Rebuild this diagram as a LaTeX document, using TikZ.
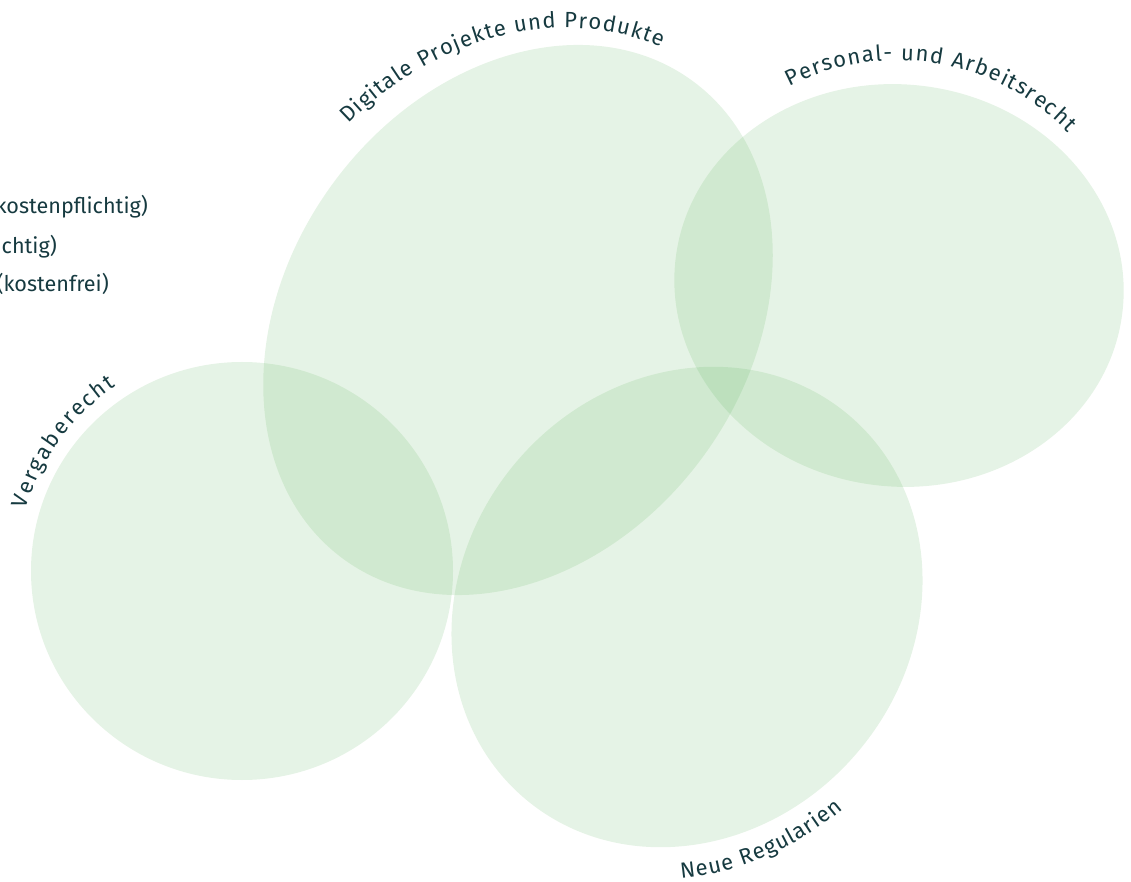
\documentclass[tikz,border=0pt]{standalone}
\usepackage{fontspec}
\setmainfont{Fira Sans}
\usetikzlibrary{decorations.text}
\definecolor{blobgreen}{RGB}{82,175,84}
\definecolor{labeltxt}{RGB}{22,58,64}
\newcommand{\arcfont}{\fontsize{22}{22}\selectfont\color{labeltxt}}
\tikzset{
  blob/.style={fill=blobgreen, fill opacity=0.15},
  legendtxt/.style={anchor=base east, inner sep=0pt, text=labeltxt, font=\fontsize{21.6}{25}\selectfont},
  arclabel/.style={decorate, decoration={text along path, text align={fit to path}, text={|\arcfont|#1}}},
}
\begin{document}
\begin{tikzpicture}[x=1pt,y=1pt]
\useasboundingbox (0,0) rectangle (1131,881);
\clip (0,0) rectangle (1131,881);
% sets
\fill[blob] (242,310) ellipse [x radius=211, y radius=209];
\fill[blob, shift={(518,561)}, rotate=54] (0,0) ellipse [x radius=296, y radius=230];
\fill[blob, shift={(899,595.5)}, rotate=-7] (0,0) ellipse [x radius=225, y radius=201];
\fill[blob, shift={(687,274)}, rotate=50] (0,0) ellipse [x radius=251, y radius=224];
% curved labels
\path[shift={(518,561)}, rotate=54, arclabel={Digitale Projekte und Produkte}]
  (79:309 and 257) arc[start angle=79, end angle=10, x radius=309, y radius=257];
\path[shift={(899,595.5)}, rotate=-7, arclabel={Personal- und Arbeitsrecht}]
  (125:232 and 225) arc[start angle=125, end angle=50, x radius=232, y radius=225];
\path[shift={(242,310)}, arclabel={Vergaberecht}]
  (164:225 and 223) arc[start angle=164, end angle=124, x radius=225, y radius=223];
\path[shift={(687,274)}, rotate=50, arclabel={Neue Regularien}]
  (222:285 and 254) arc[start angle=222, end angle=259, x radius=285, y radius=254];
% cut-off legend
\node[legendtxt] (leg1) at (148,667) {kostenpflichtig)};
\node[legendtxt] (leg2) at (57,627) {chtig)};
\node[legendtxt] (leg3) at (109,589) {(kostenfrei)};
\end{tikzpicture}
\end{document}
